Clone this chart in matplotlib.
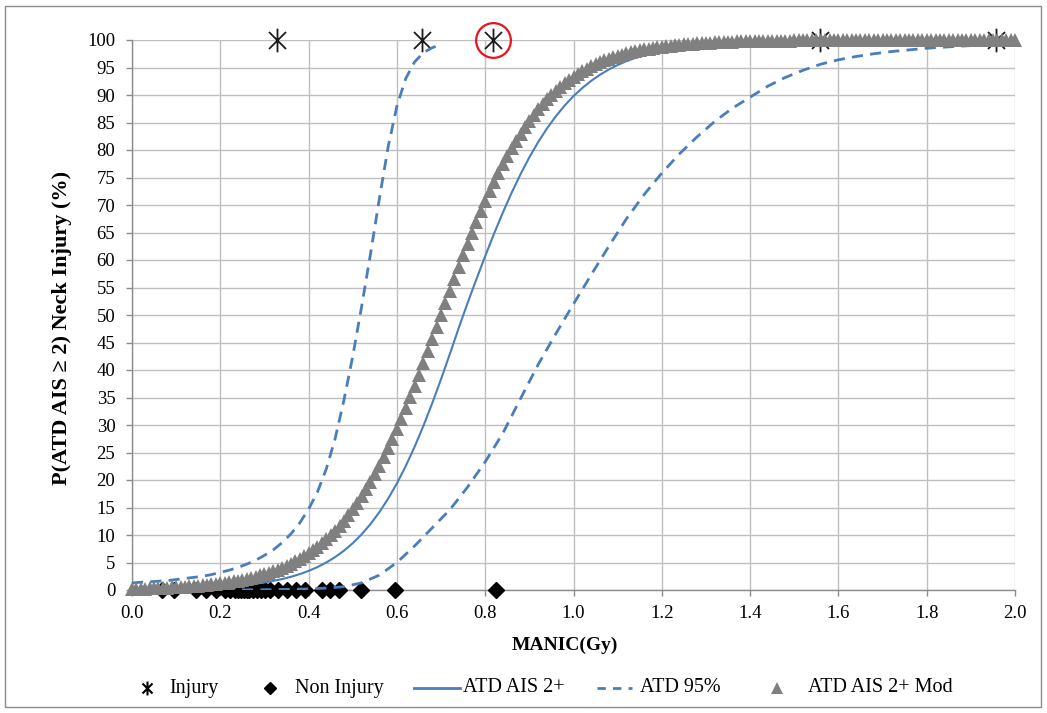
import numpy as np
import matplotlib
matplotlib.use("Agg")
import matplotlib.pyplot as plt
from matplotlib.patches import Rectangle
from matplotlib.path import Path
from matplotlib.lines import Line2D

# ---------------- data ----------------
INJURY_X = [0.328, 0.657, 0.818, 1.558, 1.957]
INJURY_Y = [100, 100, 100, 100, 100]

NONINJ_X = [0.067, 0.094, 0.146, 0.167, 0.190, 0.211, 0.222, 0.233, 0.240,
            0.247, 0.253, 0.260, 0.266, 0.273, 0.282, 0.292, 0.302, 0.313,
            0.331, 0.352, 0.372, 0.392, 0.430, 0.448, 0.469, 0.519, 0.596, 0.825]
NONINJ_Y = [0] * len(NONINJ_X)

# ATD AIS 2+ (solid), x from 0.00 to 2.00 step 0.02
SOLID_X0, SOLID_DX = 0.0, 0.02
SOLID_Y = [0.08, 0.10, 0.12, 0.14, 0.17, 0.21, 0.25, 0.30, 0.37, 0.44,
           0.54, 0.65, 0.78, 0.94, 1.14, 1.37, 1.66, 1.99, 2.40, 2.89,
           3.47, 4.17, 5.00, 5.98, 7.14, 8.51, 10.11, 11.97, 14.12, 16.58,
           19.38, 22.53, 26.02, 29.84, 33.96, 38.34, 42.92, 47.63, 52.17, 56.49,
           60.71, 64.77, 68.63, 72.25, 75.59, 78.67, 81.44, 83.93, 86.13, 88.09,
           89.80, 91.28, 92.57, 93.68, 94.64, 95.46, 96.15, 96.75, 97.26, 97.69,
           98.05, 98.35, 98.61, 98.83, 99.01, 99.17, 99.30, 99.41, 99.50, 99.58,
           99.65, 99.70, 99.75, 99.79, 99.82, 99.85, 99.87, 99.89, 99.91, 99.92,
           99.94, 99.95, 99.96, 99.96, 99.97, 99.97, 99.98, 99.98, 99.98, 99.98,
           99.98, 99.98, 99.98, 99.99, 99.99, 99.99, 99.99, 99.99, 99.99, 99.99,
           99.99]

# ATD 95% lower-dose bound (left dashed), x from 0.00 to 0.70 step 0.02
CI_LO_X0, CI_LO_DX = 0.0, 0.02
CI_LO_Y = [1.3, 1.4, 1.5, 1.6, 1.7, 1.9, 2.1, 2.3, 2.5, 2.8,
           3.2, 3.6, 4.1, 4.7, 5.4, 6.3, 7.3, 8.6, 10.2, 12.2,
           14.7, 17.8, 22.0, 27.5, 34.5, 42.5, 51.5, 61.0, 71.0, 80.5,
           88.0, 93.0, 96.0, 97.7, 98.6, 99.2]

# ATD 95% upper-dose bound (right dashed), x from 0.00 to 2.00 step 0.04
CI_HI_X0, CI_HI_DX = 0.0, 0.04
CI_HI_Y = [0.0, 0.0, 0.0, 0.0, 0.0, 0.01, 0.02, 0.04, 0.07, 0.12,
           0.2, 0.35, 0.6, 1.3, 2.7, 5.0, 8.0, 11.3, 14.6, 18.7,
           23.3, 28.5, 34.8, 41.0, 46.6, 52.0, 57.3, 62.5, 67.5, 71.9,
           75.8, 79.3, 82.4, 85.2, 87.6, 89.6, 91.6, 93.2, 94.5, 95.6,
           96.4, 97.0, 97.5, 97.9, 98.2, 98.5, 98.7, 98.9, 99.05, 99.2,
           99.3]

# ATD AIS 2+ Mod (triangles), x from 0.00 to 2.00 step 0.01
MOD_X0, MOD_DX = 0.0, 0.01
MOD_Y = [0.21, 0.23, 0.25, 0.27, 0.30, 0.33, 0.36, 0.39, 0.43, 0.46,
         0.51, 0.55, 0.60, 0.66, 0.72, 0.78, 0.86, 0.93, 1.02, 1.11,
         1.21, 1.32, 1.44, 1.57, 1.72, 1.87, 2.04, 2.22, 2.42, 2.64,
         2.87, 3.13, 3.41, 3.71, 4.04, 4.39, 4.78, 5.19, 5.65, 6.13,
         6.66, 7.23, 7.84, 8.50, 9.21, 9.98, 10.79, 11.67, 12.61, 13.61,
         14.68, 15.82, 17.02, 18.30, 19.65, 21.08, 22.58, 24.16, 25.81, 27.53,
         29.32, 31.17, 33.09, 35.07, 37.10, 39.17, 41.29, 43.44, 45.61, 47.80,
         50.00,
         52.20, 54.39, 56.56, 58.71, 60.83, 62.90, 64.93, 66.91, 68.83, 70.68,
         72.47, 74.19, 75.84, 77.42, 78.92, 80.35, 81.70, 82.98, 84.18, 85.32,
         86.39, 87.39, 88.33, 89.21, 90.02, 90.79, 91.50, 92.16, 92.77, 93.34,
         93.87, 94.35, 94.81, 95.22, 95.61, 95.96, 96.29, 96.59, 96.87, 97.13,
         97.36, 97.58, 97.78, 97.96, 98.13, 98.28, 98.43, 98.56, 98.68, 98.79,
         98.89, 98.98, 99.07, 99.14, 99.22, 99.28, 99.34, 99.40, 99.45, 99.49,
         99.54, 99.57, 99.61, 99.64, 99.67, 99.70, 99.73, 99.75, 99.77, 99.79,
         99.81, 99.82, 99.84, 99.85, 99.86, 99.87, 99.88, 99.89, 99.90, 99.91,
         99.92, 99.92, 99.93, 99.94, 99.94, 99.95, 99.95, 99.96, 99.96, 99.96,
         99.97, 99.97, 99.97, 99.97, 99.97, 99.98, 99.98, 99.98, 99.98, 99.98,
         99.98, 99.98, 99.98, 99.98, 99.98, 99.98, 99.98, 99.98, 99.98, 99.98,
         99.99, 99.99, 99.99, 99.99, 99.99, 99.99, 99.99, 99.99, 99.99, 99.99,
         99.99, 99.99, 99.99, 99.99, 99.99, 99.99, 99.99, 99.99, 99.99, 99.99]

X_TICKS = [0.0, 0.2, 0.4, 0.6, 0.8, 1.0, 1.2, 1.4, 1.6, 1.8, 2.0]
Y_TICKS = list(range(0, 101, 5))
X_LABEL = "MANIC(Gy)"
Y_LABEL = "P(ATD AIS \u2265 2) Neck Injury (%)"
LEGEND = ["Injury", "Non Injury", "ATD AIS 2+", "ATD 95%", "ATD AIS 2+ Mod"]


def xs(x0, dx, ys):
    return x0 + dx * np.arange(len(ys))


# asterisk marker: vertical stroke plus an X
ASTER = Path([(0, -1), (0, 1), (-0.72, -0.72), (0.72, 0.72),
              (-0.72, 0.72), (0.72, -0.72)],
             [Path.MOVETO, Path.LINETO, Path.MOVETO, Path.LINETO,
              Path.MOVETO, Path.LINETO])

# ---------------- figure ----------------
plt.rcParams['font.family'] = ['Liberation Serif', 'DejaVu Serif']
W, H = 1047, 713
fig = plt.figure(figsize=(W / 100, H / 100), dpi=100)
fig.patch.set_facecolor('white')
fig.add_artist(Rectangle((5 / W, 6 / H), (W - 11) / W, (H - 12) / H,
                         transform=fig.transFigure, fill=False,
                         edgecolor='#8c8c8c', linewidth=1.0))

ax = fig.add_axes([132 / W, (H - 590) / H, (1015 - 132) / W, (590 - 40) / H])
ax.set_xlim(0, 2.0)
ax.set_ylim(0, 100)

grid_c = '#bfbfbf'
ax.set_xticks(X_TICKS)
ax.set_yticks(Y_TICKS)
ax.set_xticklabels([f"{t:.1f}" for t in X_TICKS])
ax.set_yticklabels([str(t) for t in Y_TICKS])
ax.grid(True, color=grid_c, linewidth=1.0)
ax.set_axisbelow(True)
for s in ['top', 'right']:
    ax.spines[s].set_visible(False)
for s in ['left', 'bottom']:
    ax.spines[s].set_color('#8c8c8c')
    ax.spines[s].set_linewidth(1.0)
ax.tick_params(axis='both', direction='out', length=4, width=1.0,
               color='#8c8c8c', labelsize=13.5, labelcolor='black')
ax.tick_params(axis='x', pad=7)
ax.tick_params(axis='y', pad=8)

ax.set_xlabel(X_LABEL, fontsize=14, fontweight='bold')
ax.xaxis.set_label_coords((565 - 132) / (1015 - 132), -(637 - 590) / 550)
ax.set_ylabel(Y_LABEL, fontsize=16, fontweight='bold')
ax.yaxis.set_label_coords(-(132 - 72) / 883, (590 - 328) / 550)

blue = '#4a7ebb'
gray = '#808080'

ax.plot(INJURY_X, INJURY_Y, linestyle='none', marker=ASTER,
        markersize=17, markeredgewidth=1.3, color='#1a1a1a',
        clip_on=False, zorder=3)
ax.plot(NONINJ_X, NONINJ_Y, linestyle='none', marker='D',
        markersize=8.5, color='black', clip_on=False, zorder=3)
ax.plot(xs(SOLID_X0, SOLID_DX, SOLID_Y), SOLID_Y, color=blue,
        linewidth=1.5, zorder=4)
ax.plot(xs(CI_LO_X0, CI_LO_DX, CI_LO_Y), CI_LO_Y, color=blue,
        linewidth=2.0, dashes=(4, 2.6), zorder=4, clip_on=False)
ax.plot(xs(CI_HI_X0, CI_HI_DX, CI_HI_Y), CI_HI_Y, color=blue,
        linewidth=2.0, dashes=(4, 2.6), zorder=4)
ax.plot(xs(MOD_X0, MOD_DX, MOD_Y), MOD_Y, linestyle='none',
        marker='^', markersize=10.5, color=gray,
        markeredgewidth=0, clip_on=False, zorder=5)

# red circle highlighting one injury case
ax.plot([INJURY_X[2]], [INJURY_Y[2]], linestyle='none', marker='o',
        markersize=25, markerfacecolor='none', markeredgecolor='#e8141b',
        markeredgewidth=1.6, clip_on=False, zorder=6)

# ---------------- legend (manual, bottom row) ----------------
ly = (H - 688) / H


def fx(px):
    return px / W


fig.add_artist(Line2D([fx(147)], [ly], linestyle='none', marker=ASTER,
                      markersize=10, markeredgewidth=1.5, color='black',
                      transform=fig.transFigure))
fig.add_artist(Line2D([fx(270)], [ly], linestyle='none', marker='D',
                      markersize=6, color='black', transform=fig.transFigure))
fig.add_artist(Line2D([fx(414), fx(460)], [ly, ly], color=blue,
                      linewidth=2.0, transform=fig.transFigure))
fig.add_artist(Line2D([fx(597), fx(632)], [ly, ly], color=blue,
                      linewidth=2.0, dashes=(3, 2.6), transform=fig.transFigure))
fig.add_artist(Line2D([fx(777)], [ly], linestyle='none', marker='^',
                      markersize=8, color=gray, markeredgewidth=0,
                      transform=fig.transFigure))
for px, txt in zip([169, 295, 463, 640, 808], LEGEND):
    fig.text(fx(px), ly, txt, fontsize=14.5, va='center', ha='left')

fig.savefig('out.png', dpi=100, facecolor='white')
